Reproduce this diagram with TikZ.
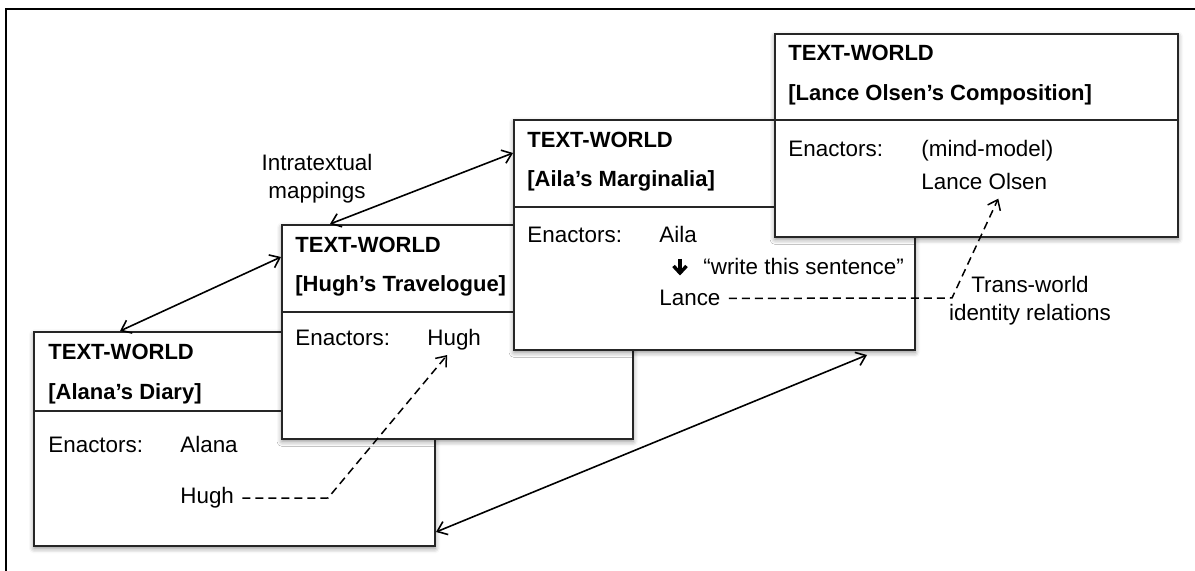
\documentclass[tikz,border=0pt]{standalone}
\usepackage{fontspec}
\setmainfont{Liberation Sans}
\usepackage{tikz}
\usetikzlibrary{arrows.meta,shadows.blur}

\tikzset{
  world/.style={draw=black!85,line width=1pt,fill=white,anchor=north west,
    inner sep=0pt,blur shadow={shadow xshift=0pt,shadow yshift=-1.2pt,
    shadow blur radius=2.5pt,shadow opacity=45}},
  divider/.style={draw=black!85,line width=0.8pt},
  lbl/.style={anchor=base west,inner sep=0pt},
  head/.style={lbl,font=\fontsize{11}{14}\selectfont\bfseries},
  note/.style={align=center,inner sep=0pt},
  mapping/.style={<->,line width=0.8pt},
  trans/.style={->,line width=0.75pt,dash pattern=on 4pt off 2.5pt},
  >={Straight Barb[length=4.5pt,width=7pt]}
}

\begin{document}
\begin{tikzpicture}[x=0.5pt,y=-0.5pt,font=\fontsize{11.2}{14}\selectfont]
     \useasboundingbox (0,0) rectangle (1195,571);
     \draw[line width=1.2pt] (6,571) -- (6,9) -- (1195,9);

     \node[world,minimum width=200.5pt,minimum height=107pt] (alana) at (33,331) {};
     \draw[divider] (alana.west |- 0,411) -- (alana.east |- 0,411);
     \node[head] (a1) at (48,360) {TEXT-WORLD};
     \node[head] (a2) at (48,400) {[Alana’s Diary]};
     \node[lbl] (a3) at (48,453) {Enactors:};
     \node[lbl] (aAlana) at (180,453) {Alana};
     \node[lbl] (aHugh) at (180,504) {Hugh};

     \node[world,minimum width=175.5pt,minimum height=107pt] (hugh) at (281,224) {};
     \draw[divider] (hugh.west |- 0,312) -- (hugh.east |- 0,312);
     \node[head] (h1) at (295,253) {TEXT-WORLD};
     \node[head] (h2) at (295,292) {[Hugh’s Travelogue]};
     \node[lbl] (h3) at (295,346) {Enactors:};
     \node[lbl] (hHugh) at (427,346) {Hugh};

     \node[world,minimum width=200.5pt,minimum height=115pt] (aila) at (513,119) {};
     \draw[divider] (aila.west |- 0,207) -- (aila.east |- 0,207);
     \node[head] (m1) at (527,148) {TEXT-WORLD};
     \node[head] (m2) at (527,187) {[Aila’s Marginalia]};
     \node[lbl] (m3) at (527,243) {Enactors:};
     \node[lbl] (mAila) at (659,243) {Aila};
     \draw[line width=1.7pt] (680,259) -- (680,272);
     \draw[line width=1.7pt,line join=miter] (673.5,266) -- (680,273) -- (686.5,266);
     \node[lbl] (mSay) at (703,275) {“write this sentence”};
     \node[lbl] (mLance) at (659,306) {Lance};

     \node[world,minimum width=201.5pt,minimum height=101.5pt] (lance) at (774,33) {};
     \draw[divider] (lance.west |- 0,120) -- (lance.east |- 0,120);
     \node[head] (l1) at (788,61) {TEXT-WORLD};
     \node[head] (l2) at (788,101) {[Lance Olsen’s Composition]};
     \node[lbl] (l3) at (788,157) {Enactors:};
     \node[lbl] (lMind) at (921,157) {(mind-model)};
     \node[lbl] (lOlsen) at (921,190) {Lance Olsen};

     \node[note] (intra) at (317,179) {Intratextual\\mappings};
     \node[note] (ident) at (1030,301) {Trans-world\\identity relations};

     \draw[mapping]
        ([xshift=43.5pt]alana.north west) -- ([yshift=-16.5pt]hugh.north west);
     \draw[mapping]
        ([xshift=24.5pt]hugh.north west) -- ([yshift=-17pt]aila.north west);
     \draw[mapping]
        ([yshift=7.5pt]alana.south east) -- ([xshift=-24.5pt,yshift=-2pt]aila.south east);

     \coordinate (bendA) at (328,498);
     \coordinate (bendB) at (952,298);
     \draw[trans,shorten <=4pt]
        (aHugh.east) -- (bendA) --
        ([xshift=-3.5pt,yshift=-2pt]hHugh.south);
     \draw[trans,shorten <=4pt]
        (mLance.east) -- (bendB) --
        ([xshift=7pt,yshift=-4pt]lOlsen.south);
 \end{tikzpicture}
\end{document}
